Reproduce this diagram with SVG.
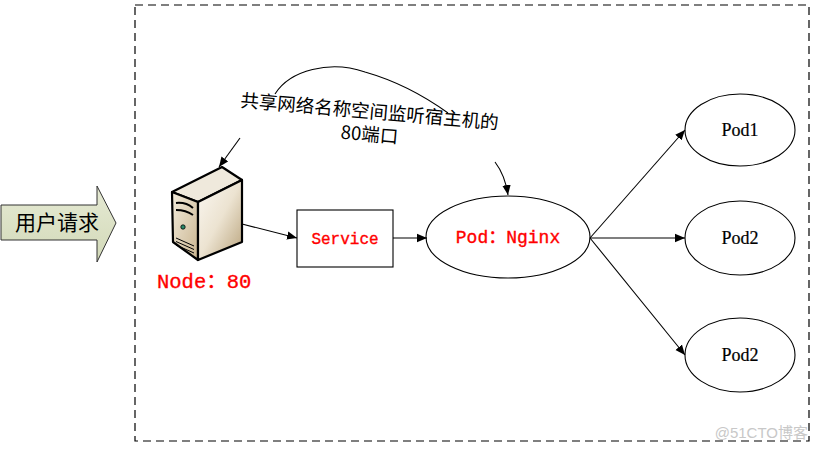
<svg xmlns="http://www.w3.org/2000/svg" width="820" height="451" viewBox="0 0 820 451">
<style>
.conn{fill:none;stroke:#000;stroke-width:1.1}
.pod{fill:#fff;stroke:#000;stroke-width:1.1}
.red{fill:#ff0000;stroke:#ff0000;stroke-width:0.35;font-family:"Liberation Mono","Noto Sans CJK SC",monospace}
.podt{fill:#000;stroke:#000;stroke-width:0.2;font-family:"Liberation Serif","Noto Sans CJK SC",serif;font-size:18px}
.cn{fill:#000;font-family:"Noto Sans CJK SC",sans-serif}
</style>
<defs>
<marker id="ah" viewBox="0 0 10 10" refX="10" refY="5" markerWidth="10" markerHeight="10" markerUnits="userSpaceOnUse" orient="auto">
<path d="M0,0.8 L10,5 L0,9.2 Z" fill="#000"/>
</marker>
<linearGradient id="arrowFill" x1="0" y1="0" x2="0" y2="1">
<stop offset="0" stop-color="#e6ead4"/>
<stop offset="1" stop-color="#d2d9b8"/>
</linearGradient>
<linearGradient id="front" x1="0" y1="0" x2="1" y2="1">
<stop offset="0" stop-color="#f3ecdc"/>
<stop offset="1" stop-color="#c9b48f"/>
</linearGradient>
<linearGradient id="side" x1="0" y1="0" x2="1" y2="1">
<stop offset="0" stop-color="#fbf8f2"/>
<stop offset="0.5" stop-color="#ece3d1"/>
<stop offset="1" stop-color="#b8a27a"/>
</linearGradient>
</defs>
<rect width="820" height="451" fill="#fff"/>

<g id="boundary">
<rect x="135" y="5" width="674" height="436" fill="none" stroke="#000" stroke-width="1.2" stroke-dasharray="8,5"/>
</g>

<g id="user-request">
<path d="M1,205 L97,205 L97,186 L116,223 L97,262 L97,240 L1,240 Z" fill="url(#arrowFill)" stroke="#333" stroke-width="1"/>
<text x="57" y="230" class="cn" font-size="21" text-anchor="middle">用户请求</text>
</g>

<g id="node">
<path d="M172,192 L222,167 L242,180 L198,202 Z" fill="#efe9dc" stroke="#000" stroke-width="2.2" stroke-linejoin="round"/>
<path d="M172,192 L198,202 L198,260 L173,242 Z" fill="url(#front)" stroke="#000" stroke-width="2.2" stroke-linejoin="round"/>
<path d="M198,202 L242,180 L242,242 L198,260 Z" fill="url(#side)" stroke="#000" stroke-width="2.2" stroke-linejoin="round"/>
<path d="M176,203 Q186,202 193,208" fill="none" stroke="#000" stroke-width="2"/>
<path d="M176,210 Q186,210 193,215" fill="none" stroke="#000" stroke-width="2"/>
<circle cx="183" cy="227" r="2.2" fill="#2a8a6a" stroke="#000" stroke-width="0.8"/>
<path d="M176,238 L194,246 M176,241.5 L194,249.5 M176,245 L194,253" stroke="#000" stroke-width="1"/>
<text x="157" y="288" class="red" font-size="20.5">Node：80</text>
</g>

<g id="service">
<rect x="297" y="210" width="96" height="57" fill="#fff" stroke="#000" stroke-width="1.1"/>
<text x="345" y="244" class="red" font-size="16" text-anchor="middle">Service</text>
</g>

<g id="pod-nginx">
<ellipse cx="508" cy="237" rx="82" ry="41" class="pod"/>
<text x="508" y="243" class="red" font-size="18" text-anchor="middle">Pod：Nginx</text>
</g>

<g id="pod1">
<ellipse cx="740" cy="130" rx="55" ry="36" class="pod"/>
<text x="740" y="136" class="podt" text-anchor="middle">Pod1</text>
</g>
<g id="pod2a">
<ellipse cx="740" cy="238" rx="55" ry="37" class="pod"/>
<text x="740" y="244" class="podt" text-anchor="middle">Pod2</text>
</g>
<g id="pod2b">
<ellipse cx="740" cy="355" rx="55" ry="37" class="pod"/>
<text x="740" y="361" class="podt" text-anchor="middle">Pod2</text>
</g>

<g id="connectors">
<line x1="242" y1="224" x2="297" y2="238" class="conn" marker-end="url(#ah)"/>
<line x1="393" y1="238" x2="427" y2="238" class="conn" marker-end="url(#ah)"/>
<line x1="590" y1="238" x2="685" y2="130" class="conn" marker-end="url(#ah)"/>
<line x1="590" y1="238" x2="685" y2="238" class="conn" marker-end="url(#ah)"/>
<line x1="590" y1="238" x2="685" y2="355" class="conn" marker-end="url(#ah)"/>
<path d="M275,94 C290,70 330,60 365,72 C400,82 430,100 448,113" class="conn"/>
<path d="M240,138 L219,167" class="conn" marker-end="url(#ah)"/>
<path d="M495,162 Q505,175 508,195" class="conn" marker-end="url(#ah)"/>
</g>

<g id="label">
<text class="cn" font-size="18.5" transform="translate(369,118) rotate(5)" text-anchor="middle">共享网络名称空间监听宿主机的</text>
<text class="cn" font-size="18.5" transform="translate(369,141) rotate(5)" text-anchor="middle">80端口</text>
</g>

<text x="808" y="438" fill="#c8c8c8" font-family="Liberation Sans,Noto Sans CJK SC,sans-serif" font-size="15" text-anchor="end">@51CTO博客</text>
</svg>
